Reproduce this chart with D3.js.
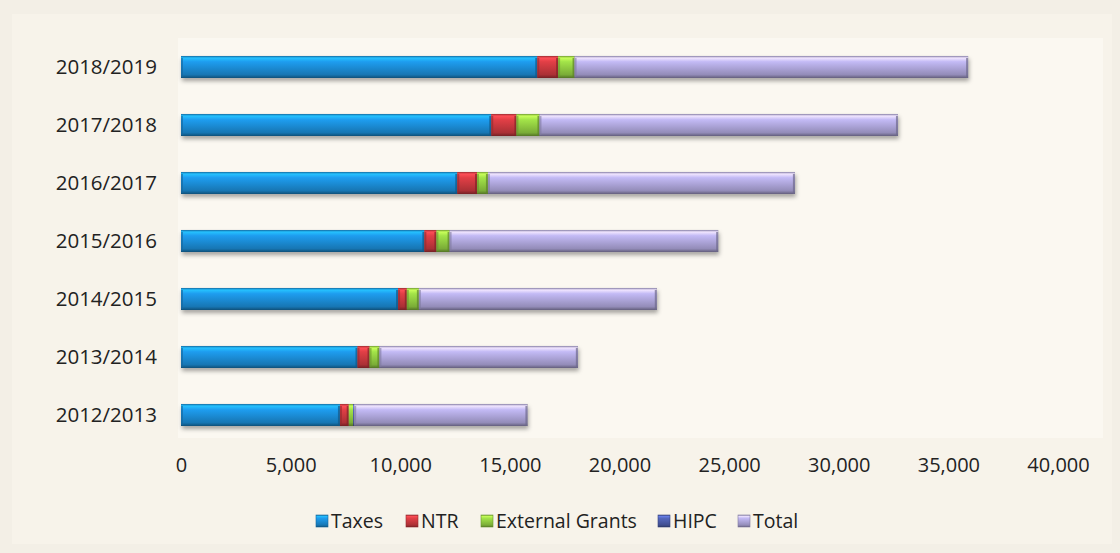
<!DOCTYPE html>
<html>
<head>
<meta charset="utf-8">
<script src="https://cdn.jsdelivr.net/npm/d3@7"></script>
<style>
  html, body { margin: 0; padding: 0; background: #f4f1ea; }
  svg { display: block; }
  text { font-family: "Open Sans", "DejaVu Sans", sans-serif; fill: #222; }
</style>
</head>
<body>
<svg id="chart" width="1120" height="553"></svg>
<script>
// Revenue by fiscal year (UGX billions), stacked by source
const years = ["2012/2013", "2013/2014", "2014/2015", "2015/2016", "2016/2017", "2017/2018", "2018/2019"];
const taxes = [7250, 8050, 9900, 11100, 12600, 14150, 16250];
const ntr = [400, 550, 400, 550, 900, 1150, 950];
const externalGrants = [200, 450, 550, 600, 500, 1050, 750];
const hipc = [50, 0, 0, 0, 0, 0, 0];
const total = [7900, 9050, 10850, 12250, 14000, 16350, 17950];
const xTicks = [0, 5000, 10000, 15000, 20000, 25000, 30000, 35000, 40000];

const seriesNames = ["Taxes", "NTR", "External Grants", "HIPC", "Total"];
const seriesValues = [taxes, ntr, externalGrants, hipc, total];
const seriesColors = ["#1a88cf", "#c4373d", "#8dc63f", "#4a5aa6", "#a9a1d4"];

const rows = years.map((y, i) => {
  const r = { year: y };
  seriesNames.forEach((s, k) => { r[s] = seriesValues[k][i]; });
  return r;
});

const svg = d3.select("#chart");
const W = 1120, H = 553;

// page and plot backgrounds
svg.append("rect").attr("width", W).attr("height", H).attr("fill", "#f3efe6");
svg.append("rect").attr("x", 12).attr("y", 14).attr("width", 1100).attr("height", 530).attr("fill", "#f7f3ea");
svg.append("rect").attr("x", 178).attr("y", 38).attr("width", 925).attr("height", 400).attr("fill", "#fbf8f1");

const x = d3.scaleLinear().domain([0, 40000]).range([181, 1058]);
const y = d3.scaleBand().domain(years.slice().reverse()).range([38, 444]).paddingInner(0.62).paddingOuter(0.31);

const defs = svg.append("defs");

// bevelled look: light top edge, saturated middle, dark lower edge
seriesColors.forEach((c, k) => {
  const base = d3.color(c);
  const g = defs.append("linearGradient").attr("id", "g" + k)
    .attr("x1", 0).attr("y1", 0).attr("x2", 0).attr("y2", 1);
  g.append("stop").attr("offset", "0%").attr("stop-color", base.darker(0.7));
  g.append("stop").attr("offset", "9%").attr("stop-color", base.brighter(1.0));
  g.append("stop").attr("offset", "26%").attr("stop-color", base.brighter(0.4));
  g.append("stop").attr("offset", "58%").attr("stop-color", base);
  g.append("stop").attr("offset", "85%").attr("stop-color", base.darker(0.4));
  g.append("stop").attr("offset", "100%").attr("stop-color", base.darker(1.5));
});

const shadow = defs.append("filter").attr("id", "shadow")
  .attr("x", "-5%").attr("y", "-30%").attr("width", "110%").attr("height", "180%");
shadow.append("feDropShadow").attr("dx", 1).attr("dy", 3).attr("stdDeviation", 2)
  .attr("flood-color", "#000").attr("flood-opacity", 0.35);

const stack = d3.stack().keys(seriesNames)(rows);

const barG = svg.append("g");
// shadow strip under each full bar
barG.selectAll("rect.sh").data(rows).join("rect").attr("class", "sh")
  .attr("x", d => x(0))
  .attr("y", d => y(d.year))
  .attr("width", d => x(d3.sum(seriesNames, s => d[s])) - x(0))
  .attr("height", y.bandwidth())
  .attr("fill", "#777").attr("filter", "url(#shadow)");

stack.forEach((layer, k) => {
  const g = barG.append("g");
  g.selectAll("rect").data(layer.filter(d => d[1] > d[0])).join("rect")
    .attr("x", d => x(d[0]))
    .attr("y", d => y(d.data.year))
    .attr("width", d => x(d[1]) - x(d[0]))
    .attr("height", y.bandwidth())
    .attr("fill", `url(#g${k})`);
  // darker end caps for the bevel
  g.selectAll("rect.cap").data(layer.filter(d => x(d[1]) - x(d[0]) > 6)).join("rect").attr("class", "cap")
    .attr("x", d => x(d[1]) - 2)
    .attr("y", d => y(d.data.year) + 2)
    .attr("width", 2)
    .attr("height", y.bandwidth() - 2)
    .attr("fill", d3.color(seriesColors[k]).darker(1.2)).attr("opacity", 0.7);
  g.selectAll("rect.lcap").data(layer.filter(d => x(d[1]) - x(d[0]) > 6)).join("rect").attr("class", "lcap")
    .attr("x", d => x(d[0]))
    .attr("y", d => y(d.data.year) + 2)
    .attr("width", 2)
    .attr("height", y.bandwidth() - 3)
    .attr("fill", d3.color(seriesColors[k]).darker(0.8)).attr("opacity", 0.6);
});

// category axis
const yAxis = svg.append("g").attr("transform", `translate(${x(0)},0)`)
  .call(d3.axisLeft(y).tickSize(0).tickPadding(24));
yAxis.select(".domain").remove();
yAxis.selectAll("text").style("font-size", "20.5px").attr("fill", "#222")
  .style("font-family", "'Open Sans', sans-serif");

// value axis
const xAxis = svg.append("g").attr("transform", "translate(0,466)")
  .call(d3.axisBottom(x).tickValues(xTicks).tickFormat(d3.format(",")).tickSize(0).tickPadding(0));
xAxis.select(".domain").remove();
xAxis.selectAll("text").style("font-size", "20px").attr("dy", "0.32em").attr("fill", "#222")
  .style("font-family", "'Open Sans', sans-serif");

// legend
const legendX = [316, 406, 481, 658, 738];
const legend = svg.append("g");
seriesNames.forEach((s, k) => {
  const lg = legend.append("g").attr("transform", `translate(${legendX[k]},521)`);
  lg.append("rect").attr("x", 0).attr("y", -6).attr("width", 12).attr("height", 12)
    .attr("fill", `url(#g${k})`).attr("stroke", d3.color(seriesColors[k]).darker(0.8)).attr("stroke-width", 0.6);
  lg.append("text").attr("x", 15).attr("y", 0).attr("dy", "0.35em")
    .style("font-size", "19.5px").text(s);
});
</script>
</body>
</html>
